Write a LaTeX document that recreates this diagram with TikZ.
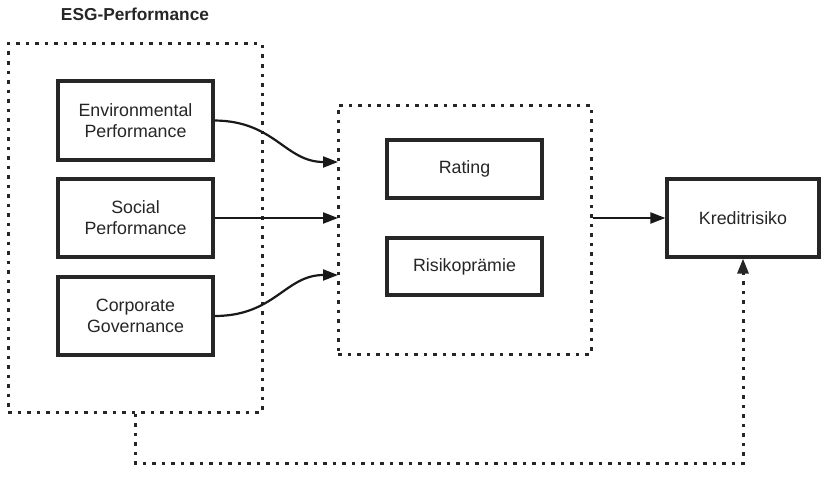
\documentclass[tikz,border=0pt]{standalone}
\usepackage{fontspec}
\setmainfont{Liberation Sans}
\usetikzlibrary{arrows.meta}
\begin{document}
\begin{tikzpicture}[x=1pt,y=-1pt,
  solidbox/.style={draw=black!85, line width=3.2pt, fill=white, align=center, inner sep=0pt,
    font=\fontsize{17.8}{21}\selectfont, text=black!85},
  dotbox/.style={draw=black!85, line width=3pt, dash pattern=on 3.5pt off 6pt, inner sep=0pt},
  dotline/.style={draw=black!85, line width=3pt, dash pattern=on 3.5pt off 6pt},
  arr/.style={draw=black!90, line width=2.2pt, -{Triangle[length=15pt,width=11pt]}},
  darr/.style={dotline, -{Triangle[length=15pt,width=11pt]}}
]
\useasboundingbox (0,0) rectangle (821,495);
\node[font=\fontsize{17.3}{20}\selectfont\bfseries, text=black!85] (title) at (135,14) {ESG-Performance};
\node[dotbox, minimum width=254pt, minimum height=368pt] (esg) at (135,228) {};
\node[dotbox, minimum width=253pt, minimum height=249pt] (mid) at (464.5,229.5) {};
\node[solidbox, minimum width=155pt, minimum height=79pt] (env) at (135.5,120.5) {Environmental\\Performance};
\node[solidbox, minimum width=155pt, minimum height=78pt] (soc) at (135.5,218) {Social\\Performance};
\node[solidbox, minimum width=155pt, minimum height=78pt] (cg) at (135.5,316) {Corporate\\Governance};
\node[solidbox, minimum width=155pt, minimum height=58pt] (rat) at (464.5,169) {Rating};
\node[solidbox, minimum width=155pt, minimum height=57pt] (rp) at (464.5,266.5) {Risikoprämie};
\node[solidbox, minimum width=152pt, minimum height=78pt] (kr) at (743,218) {Kreditrisiko};
\coordinate (e1) at (338,162);
\coordinate (e2) at (338,218);
\coordinate (e3) at (338,275);
\coordinate (f1) at (135,463);
\coordinate (f2) at (743,463);
\draw[arr] (env.east) .. controls (275,121) and (285,162) .. (e1);
\draw[arr] (soc.east) -- (e2);
\draw[arr] (cg.east) .. controls (275,316) and (285,275) .. (e3);
\draw[arr] (mid.east |- kr.west) -- (kr.west);
\draw[darr] (esg.south) -- (f1) -- (f2) -- (kr.south);
\end{tikzpicture}
\end{document}
